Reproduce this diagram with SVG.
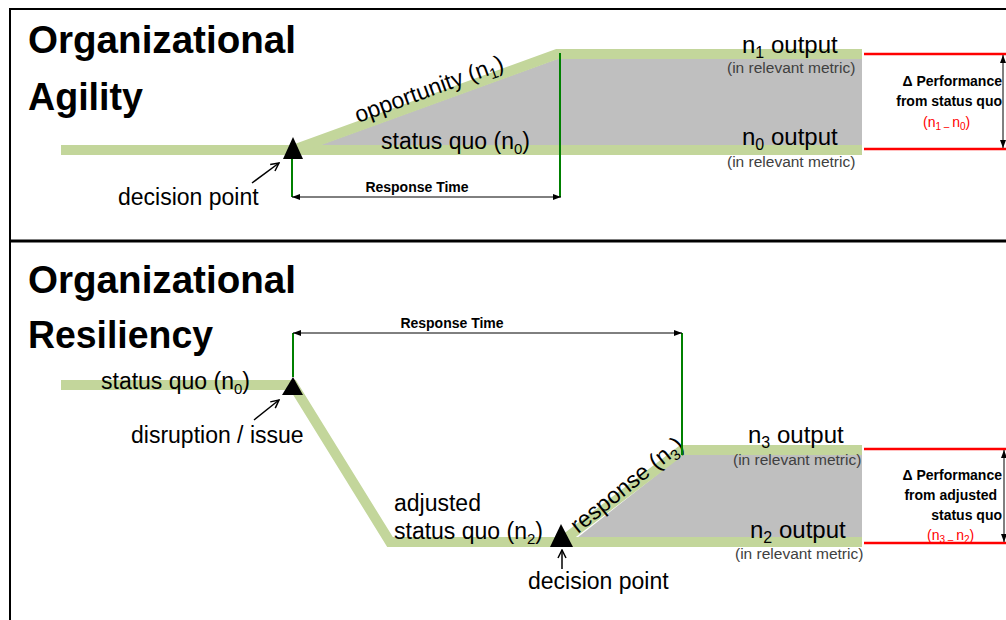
<svg xmlns="http://www.w3.org/2000/svg" width="1006" height="620" viewBox="0 0 1006 620">
<defs>
<style>
.t{font-family:"Liberation Sans",Arial,sans-serif;fill:#000}
.title{font-size:39px;font-weight:bold}
.lbl{font-size:23px}
.out{font-size:24px}
.met{font-size:15.5px;fill:#404040}
.rt{font-size:14px;font-weight:bold}
.dp{font-size:14px;font-weight:bold}
.red{font-size:14px;fill:#ff0000}
.band{fill:none;stroke:#c3d69b;stroke-width:10;stroke-linejoin:miter}
.gray{fill:#bfbfbf}
.gv{stroke:#008000;stroke-width:2;fill:none}
.rl{stroke:#ff0000;stroke-width:2.5;fill:none}
.dim{stroke:#000;stroke-width:1;fill:none;marker-start:url(#ah);marker-end:url(#ah)}
.ptr{stroke:#000;stroke-width:1.5;fill:none;marker-end:url(#open)}
.tri{fill:#000}
</style>
<marker id="ah" viewBox="0 0 8 6" refX="8" refY="3" markerWidth="8" markerHeight="6" markerUnits="userSpaceOnUse" orient="auto-start-reverse"><path d="M0,0 L8,3 L0,6 z" fill="#000"/></marker>
<marker id="open" viewBox="0 0 10 10" refX="9" refY="5" markerWidth="10" markerHeight="10" markerUnits="userSpaceOnUse" orient="auto"><path d="M1,1 L9,5 L1,9" fill="none" stroke="#000" stroke-width="1.5"/></marker>
</defs>
<rect width="1006" height="620" fill="#fff"/>
<g id="frame">
<path d="M10,620 V9 H1006" fill="none" stroke="#000" stroke-width="2"/>
<line x1="10" y1="241" x2="1006" y2="241" stroke="#000" stroke-width="3"/>
</g>

<g id="agility">
<polygon class="gray" points="320,145 557,59 862,59 862,145"/>
<polyline class="band" points="61,150 862,150"/>
<polyline class="band" points="293,150 557,54 862,54"/>
<polygon class="tri" points="293,137 283,159 303,159"/>
<text class="t title" x="28" y="53" textLength="268" lengthAdjust="spacingAndGlyphs">Organizational</text>
<text class="t title" x="28" y="110" textLength="115" lengthAdjust="spacingAndGlyphs">Agility</text>
<text class="t lbl" x="118" y="205">decision point</text>
<text class="t lbl" transform="translate(358,123) rotate(-20)">opportunity (n<tspan font-size="15" dy="5">1</tspan><tspan dy="-5">)</tspan></text>
<text class="t lbl" x="381" y="149">status quo (n<tspan font-size="15" dy="5">0</tspan><tspan dy="-5">)</tspan></text>
<text class="t rt" x="417" y="192" text-anchor="middle">Response Time</text>
<text class="t out" x="742" y="53">n<tspan font-size="16" dy="5">1</tspan><tspan dy="-5"> output</tspan></text>
<text class="t met" x="727" y="73">(in relevant metric)</text>
<text class="t out" x="742" y="145">n<tspan font-size="16" dy="5">0</tspan><tspan dy="-5"> output</tspan></text>
<text class="t met" x="727" y="167">(in relevant metric)</text>
<text class="t dp" x="1002" y="86" text-anchor="end">Δ Performance</text>
<text class="t dp" x="1002" y="106" text-anchor="end">from status quo</text>
<text class="t red" x="923" y="127">(n<tspan font-size="10" dy="3">1 – </tspan><tspan dy="-3">n</tspan><tspan font-size="10" dy="3">0</tspan><tspan dy="-3">)</tspan></text>
</g>

<g id="resiliency">
<polygon class="gray" points="577,538 682,455 862,455 862,537"/>
<polyline class="band" points="61,385 293,385 390,542 862,542"/>
<polyline class="band" points="561,542 682,450 862,450"/>
<polygon class="tri" points="293,377 282,395 303,395"/>
<polygon class="tri" points="561,524 550,547 573,547"/>
<text class="t title" x="28" y="293" textLength="268" lengthAdjust="spacingAndGlyphs">Organizational</text>
<text class="t title" x="28" y="348" textLength="185" lengthAdjust="spacingAndGlyphs">Resiliency</text>
<text class="t lbl" x="101" y="389">status quo (n<tspan font-size="15" dy="5">0</tspan><tspan dy="-5">)</tspan></text>
<text class="t lbl" x="131" y="443">disruption / issue</text>
<text class="t lbl" x="394" y="511">adjusted</text>
<text class="t lbl" x="394" y="539">status quo (n<tspan font-size="15" dy="5">2</tspan><tspan dy="-5">)</tspan></text>
<text class="t lbl" x="528" y="589">decision point</text>
<text class="t lbl" transform="translate(578,534) rotate(-39)">response (n<tspan font-size="15" dy="5">3</tspan><tspan dy="-5">)</tspan></text>
<text class="t rt" x="452" y="328" text-anchor="middle">Response Time</text>
<text class="t out" x="748" y="443">n<tspan font-size="16" dy="5">3</tspan><tspan dy="-5"> output</tspan></text>
<text class="t met" x="733" y="465">(in relevant metric)</text>
<text class="t out" x="750" y="538">n<tspan font-size="16" dy="5">2</tspan><tspan dy="-5"> output</tspan></text>
<text class="t met" x="735" y="559">(in relevant metric)</text>
<text class="t dp" x="1002" y="480" text-anchor="end">Δ Performance</text>
<text class="t dp" x="997" y="500" text-anchor="end">from adjusted</text>
<text class="t dp" x="1002" y="520" text-anchor="end">status quo</text>
<text class="t red" x="927" y="540">(n<tspan font-size="10" dy="3">3 – </tspan><tspan dy="-3">n</tspan><tspan font-size="10" dy="3">2</tspan><tspan dy="-3">)</tspan></text>
</g>

<g id="connectors">
<line class="gv" x1="292" y1="159" x2="292" y2="197"/>
<line class="gv" x1="560" y1="53" x2="560" y2="197"/>
<line class="dim" x1="292" y1="197" x2="561" y2="197"/>
<line class="rl" x1="864" y1="54" x2="1006" y2="54"/>
<line class="rl" x1="864" y1="149" x2="1006" y2="149"/>
<line class="dim" x1="1003" y1="55" x2="1003" y2="148"/>
<line class="ptr" x1="252" y1="183" x2="279" y2="163"/>
<line class="gv" x1="293" y1="333" x2="293" y2="377"/>
<line class="gv" x1="682" y1="333" x2="682" y2="455"/>
<line class="dim" x1="293" y1="333" x2="682" y2="333"/>
<line class="ptr" x1="254" y1="420" x2="279" y2="400"/>
<line class="ptr" x1="562" y1="569" x2="562" y2="550"/>
<line class="rl" x1="864" y1="449" x2="1006" y2="449"/>
<line class="rl" x1="864" y1="543" x2="1006" y2="543"/>
<line class="dim" x1="1004" y1="450" x2="1004" y2="542"/>
</g>
</svg>
